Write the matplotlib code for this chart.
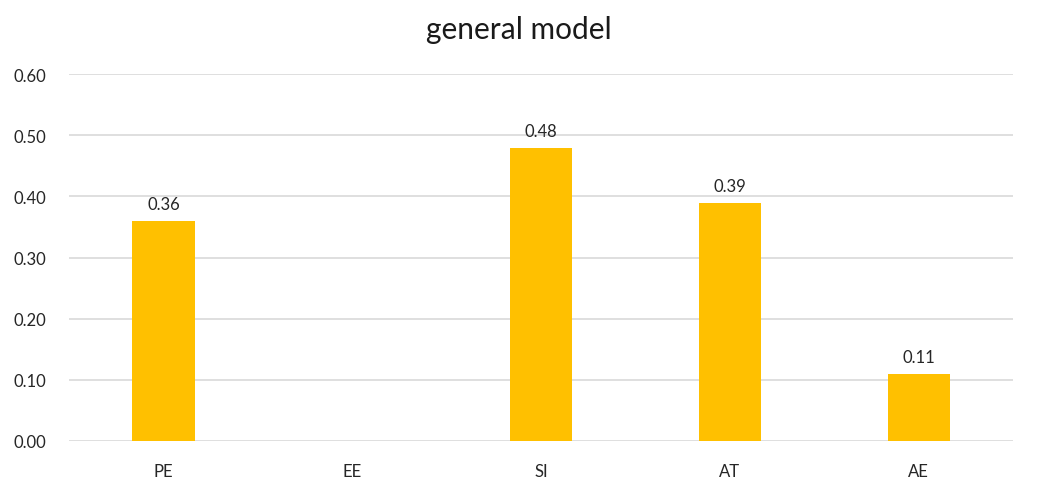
import numpy as np
import matplotlib.pyplot as plt

plt.rcParams['font.family'] = ['Lato', 'DejaVu Sans']

categories = ["PE", "EE", "SI", "AT", "AE"]
values = [0.36, None, 0.48, 0.39, 0.11]
yticks = [0.0, 0.1, 0.2, 0.3, 0.4, 0.5, 0.6]

fig = plt.figure(figsize=(10.37, 4.85), dpi=100)
ax = fig.add_axes([0.0665, 0.089, 0.9105, 0.756])

x = np.arange(len(categories))
heights = [v if v is not None else 0 for v in values]
bars = ax.bar(x, heights, width=0.33, color="#FFC000", zorder=3)

# value labels above bars (skip empty category)
for xi, v in zip(x, values):
    if v is not None:
        ax.text(xi, v + 0.014, f"{v:.2f}", ha="center", va="bottom",
                fontsize=12, color="#262626")

ax.set_xlim(-0.5, len(categories) - 0.5)
ax.set_ylim(0, 0.6)
ax.set_yticks(yticks)
ax.set_yticklabels([f"{t:.2f}" for t in yticks])
ax.set_xticks(x)
ax.set_xticklabels(categories)
ax.grid(axis="y", color="#D9D9D9", linewidth=1.2, zorder=0)
ax.tick_params(axis="both", length=0, labelsize=12, colors="#262626")
ax.tick_params(axis="x", pad=16)
ax.tick_params(axis="y", pad=16)
for s in ax.spines.values():
    s.set_visible(False)

fig.suptitle("general model", y=0.968, fontsize=21.5, color="#1a1a1a")

plt.savefig("out.png", dpi=100)
